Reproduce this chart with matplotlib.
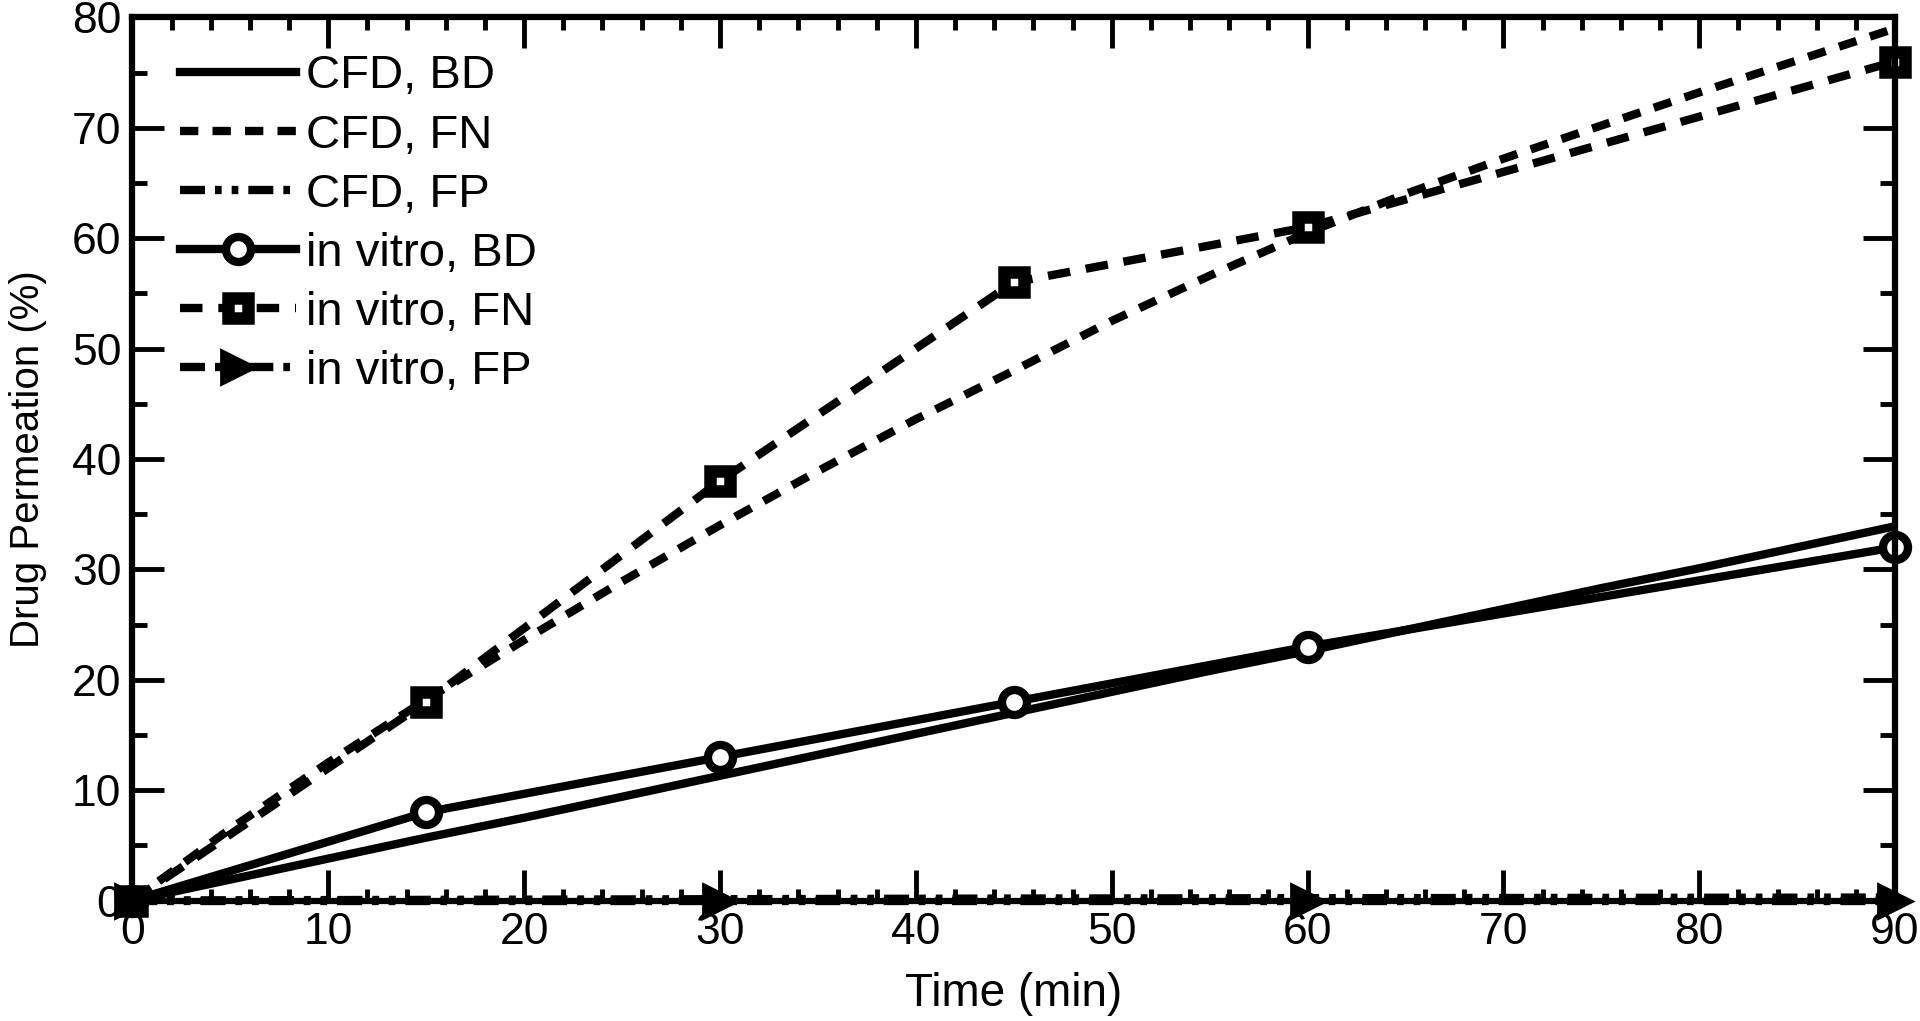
import numpy as np
import matplotlib
matplotlib.use('Agg')
import matplotlib.pyplot as plt
from matplotlib.ticker import MultipleLocator

plt.rcParams['font.family'] = ['Liberation Sans', 'DejaVu Sans']

# CFD curves
cfdTime = [0, 5, 10, 15, 20, 25, 30, 35, 40, 45, 50, 55, 60, 65, 70, 75, 80, 85, 90]
cfdBD = [0, 1.9, 3.8, 5.7, 7.5, 9.4, 11.3, 13.2, 15.1, 17.0, 18.9, 20.8, 22.6, 24.5, 26.4, 28.3, 30.1, 32.0, 33.9]
cfdFN = [0, 6.5, 12.5, 18.2, 23.6, 28.9, 34.0, 38.9, 43.6, 48.0, 52.5, 56.6, 60.5, 64.0, 67.2, 70.2, 73.2, 76.1, 79.0]
cfdFP = [0, 0.02, 0.04, 0.06, 0.08, 0.1, 0.12, 0.14, 0.16, 0.18, 0.19, 0.2, 0.21, 0.22, 0.23, 0.24, 0.25, 0.26, 0.27]

# in vitro measurements
vitroTime = [0, 15, 30, 45, 60, 90]
vitroBD = [0, 8, 13, 18, 23, 32]
vitroFN = [0, 18, 38, 56, 61, 76]
fpTime = [0, 30, 60, 90]
vitroFP = [0, 0, 0, 0]

fig = plt.figure(figsize=(19.2, 10.21), dpi=100)
ax = fig.add_axes([0.069, 0.118, 0.918, 0.865])

lw = 6
dashdotdot = (0, (3.0, 1.2, 0.8, 1.2, 0.8, 1.2))
ax.plot(cfdTime, cfdBD, c='k', lw=lw, ls='-', label='CFD, BD')
ax.plot(cfdTime, cfdFN, c='k', lw=lw, ls=(0, (2.2, 1.7)), label='CFD, FN')
ax.plot(cfdTime, cfdFP, c='k', lw=lw, ls=dashdotdot, label='CFD, FP', clip_on=False)
ax.plot(vitroTime, vitroBD, c='k', lw=lw, ls='-', marker='o', ms=18, mew=6,
        mfc='white', mec='k', label='in vitro, BD', clip_on=False)
ax.plot(vitroTime, vitroFN, c='k', lw=lw, ls=(0, (2.7, 1.9)), marker='s', ms=14, mew=9,
        mfc='white', mec='k', label='in vitro, FN', clip_on=False)
ax.plot(fpTime, vitroFP, c='k', lw=lw, ls=dashdotdot, marker='>', ms=24, mew=2,
        mfc='k', mec='k', label='in vitro, FP', clip_on=False)

ax.set_xlim(0, 90)
ax.set_ylim(0, 80)
ax.xaxis.set_major_locator(MultipleLocator(10))
ax.xaxis.set_minor_locator(MultipleLocator(2))
ax.yaxis.set_major_locator(MultipleLocator(10))
ax.yaxis.set_minor_locator(MultipleLocator(5))
ax.tick_params(which='both', direction='in', top=True, right=True, labelsize=32, width=3.5)
ax.tick_params(axis='x', which='major', length=22, pad=8)
ax.tick_params(axis='x', which='minor', length=9)
ax.tick_params(axis='y', which='major', length=23, pad=8)
ax.tick_params(axis='y', which='minor', length=11)
for s in ax.spines.values():
    s.set_linewidth(4.5)

ax.set_xlabel('Time (min)', fontsize=33, labelpad=14)
ax.set_ylabel('Drug Permeation (%)', fontsize=29, labelpad=18)

ax.legend(loc='upper left', frameon=False, fontsize=34, handlelength=2.45,
          labelspacing=0.32, handletextpad=0.22, borderaxespad=0, borderpad=0,
          bbox_to_anchor=(0.027, 0.958))

fig.savefig('out.png', dpi=100)
